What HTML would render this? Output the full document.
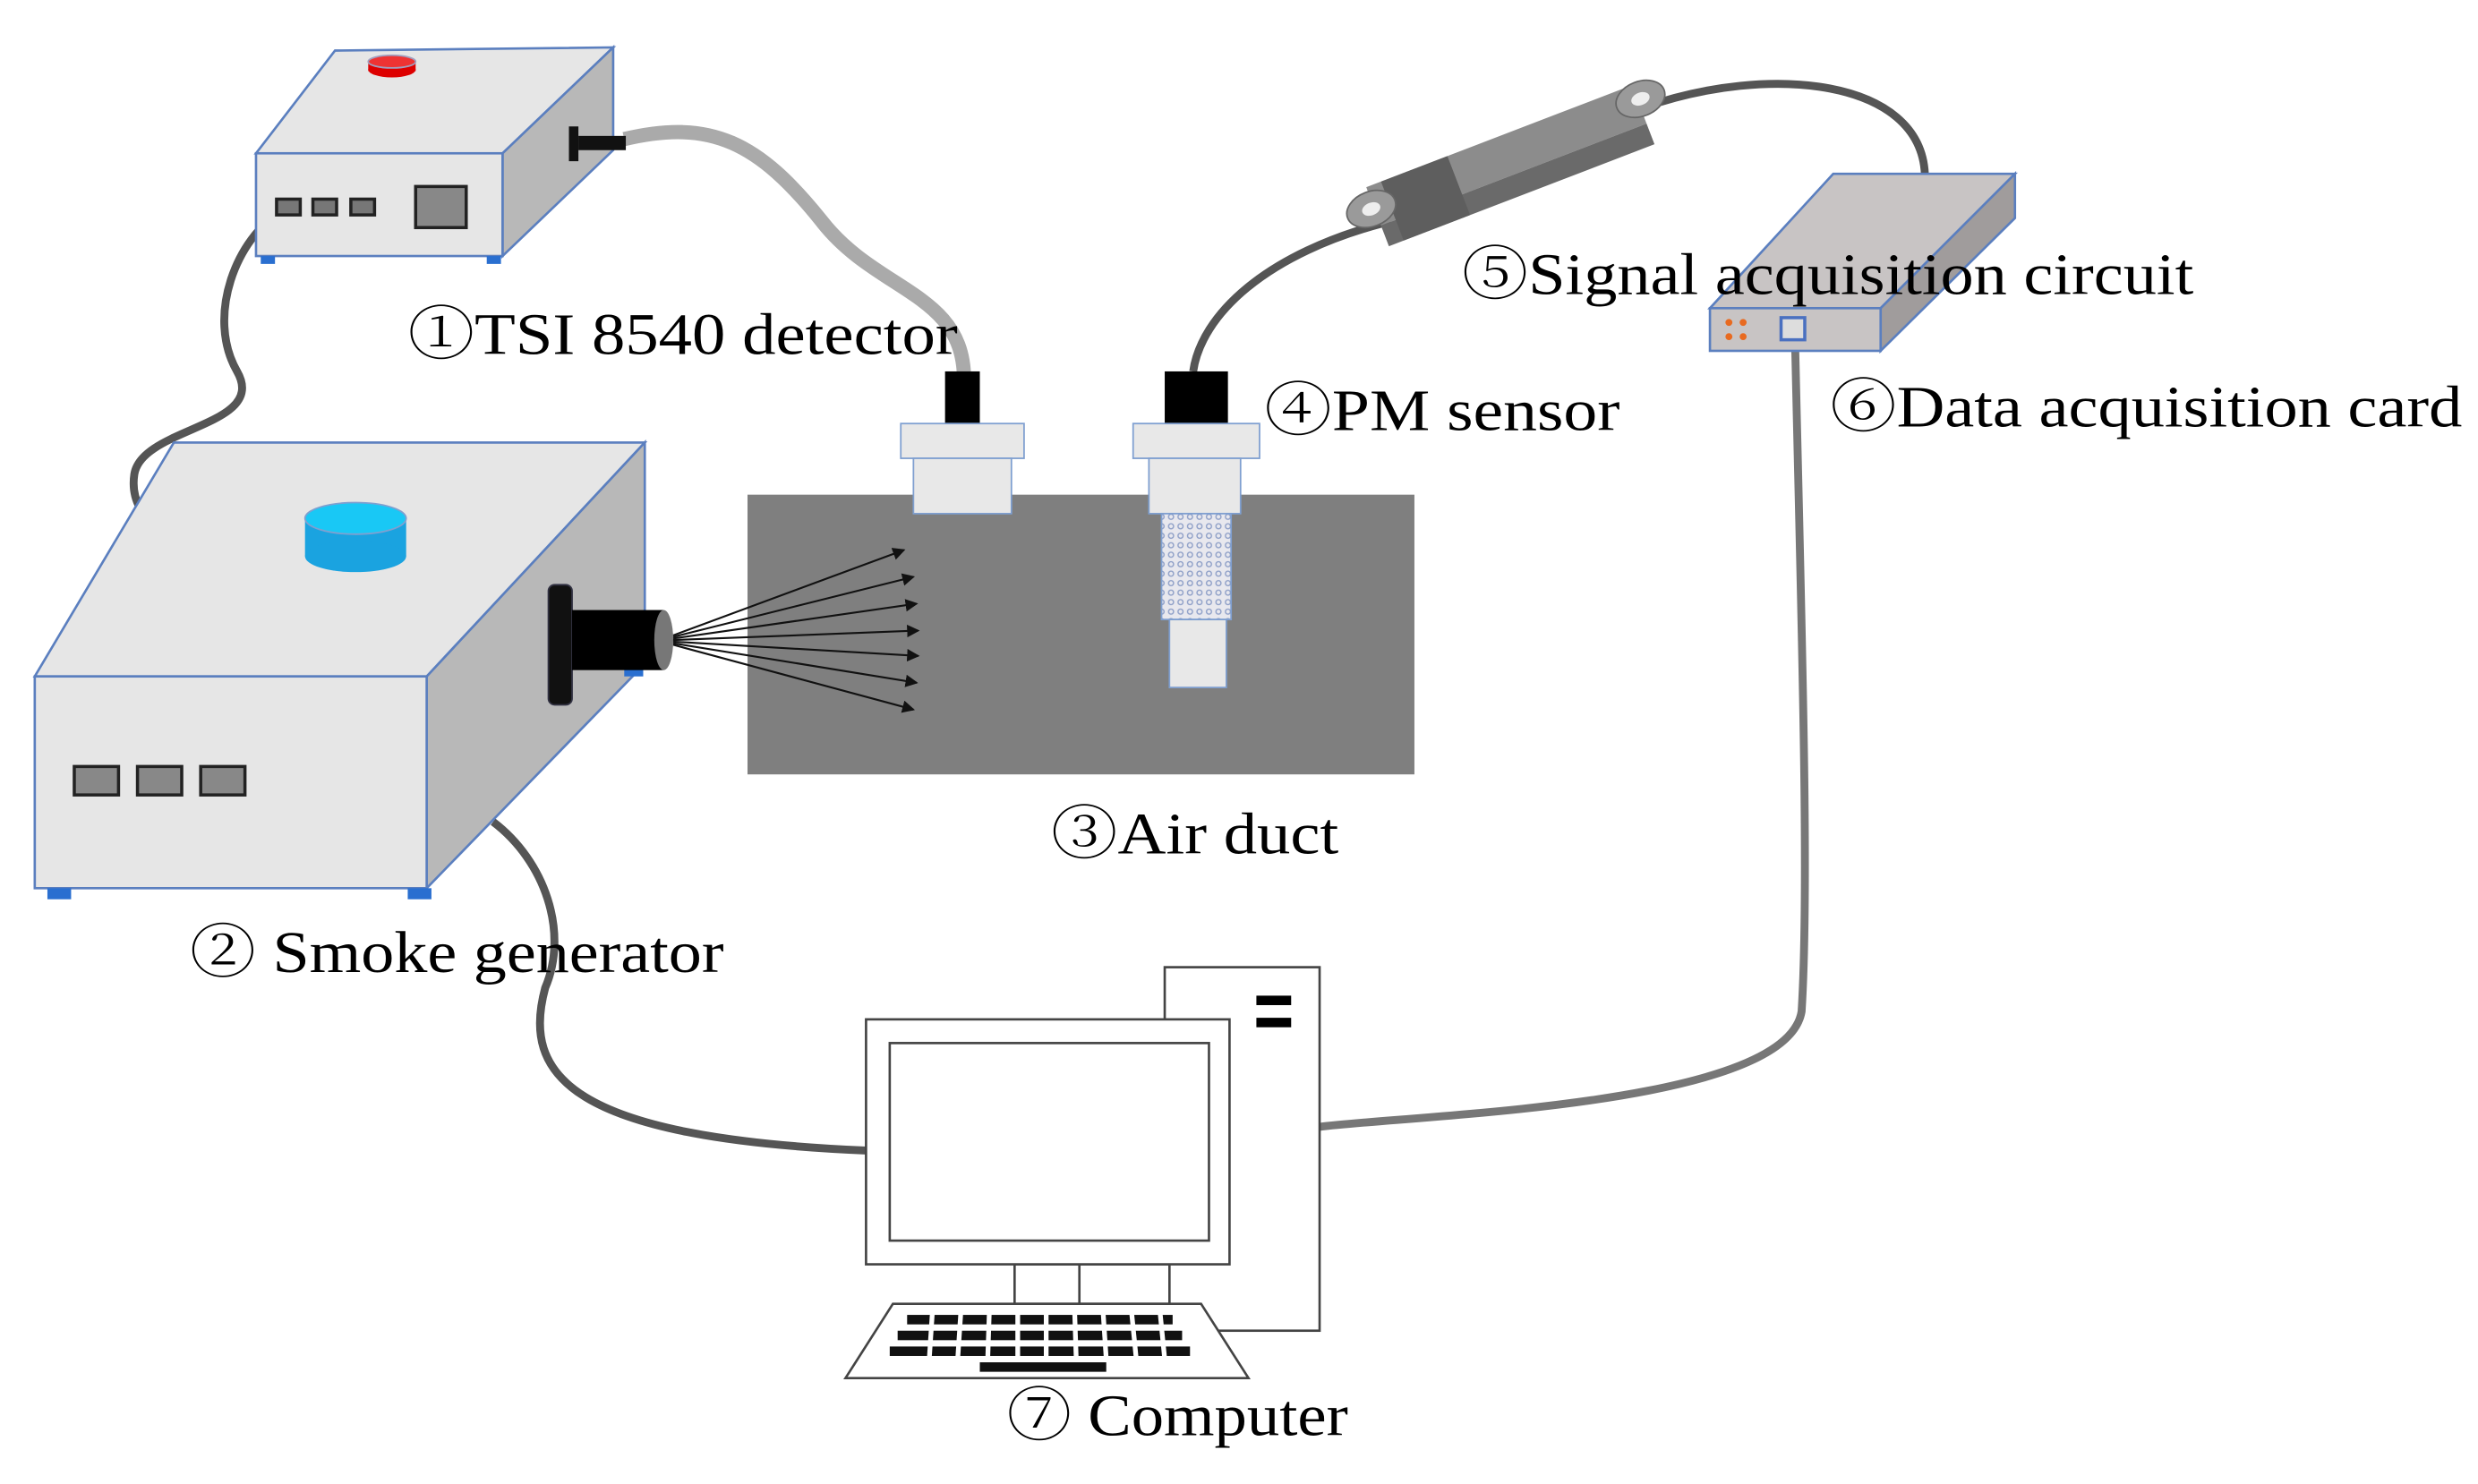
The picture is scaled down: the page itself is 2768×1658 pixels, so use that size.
<!DOCTYPE html>
<html><head><meta charset="utf-8"><style>
html,body{margin:0;padding:0;background:#fff}
svg{display:block}
text{font-family:"Liberation Serif","DejaVu Serif",serif;font-size:37px;fill:#000}
.c{font-family:"Noto Serif CJK SC","Noto Sans CJK SC",serif;font-weight:300}
</style></head><body>
<svg width="2768" height="1658" viewBox="0 0 1568 939" preserveAspectRatio="none" xmlns="http://www.w3.org/2000/svg">
<defs>
<marker id="ar" markerWidth="8" markerHeight="8" refX="7" refY="4" orient="auto" markerUnits="userSpaceOnUse"><path d="M0,0 L8,4 L0,8 Z" fill="#111"/></marker>
<pattern id="dots" width="6" height="6" patternUnits="userSpaceOnUse"><rect width="6" height="6" fill="#e8e8ee"/><circle cx="3" cy="3" r="1.6" fill="none" stroke="#8fa0c8" stroke-width="0.8"/></pattern>
</defs>

<!-- cables -->
<path d="M178,134 C150,150 130,200 150,235 C170,270 90,270 85,300 C82,320 95,330 100,335" fill="none" stroke="#555" stroke-width="5"/>
<path d="M312,520 C345,545 360,590 345,625 C330,680 360,720 548,728" fill="none" stroke="#555" stroke-width="5"/>
<path d="M1136,222 C1140,400 1145,560 1140,640 C1130,700 900,705 835,713" fill="none" stroke="#777" stroke-width="5"/>
<path d="M395,88 C450,75 480,90 520,140 C555,185 610,185 610,240" fill="none" stroke="#aaa" stroke-width="9"/>
<path d="M755,235 C760,200 800,160 880,140" fill="none" stroke="#555" stroke-width="5"/>
<path d="M1040,68 C1120,40 1215,50 1218,110" fill="none" stroke="#555" stroke-width="5"/>

<!-- detector -->
<polygon points="162,97 212,32 388,30 318,97" fill="#e6e6e6" stroke="#5b7fbf" stroke-width="1.5"/>
<polygon points="318,97 388,30 388,95 318,162" fill="#b8b8b8" stroke="#5b7fbf" stroke-width="1.5"/>
<rect x="162" y="97" width="156" height="65" fill="#e6e6e6" stroke="#5b7fbf" stroke-width="1.5"/>
<ellipse cx="248" cy="44" rx="15" ry="5" fill="#d00"/><rect x="233" y="39" width="30" height="6" fill="#d00"/><ellipse cx="248" cy="39" rx="15" ry="4" fill="#e33" stroke="#a0a0c0"/>
<rect x="175" y="126" width="15" height="10" fill="#777" stroke="#222" stroke-width="2"/>
<rect x="198" y="126" width="15" height="10" fill="#777" stroke="#222" stroke-width="2"/>
<rect x="222" y="126" width="15" height="10" fill="#777" stroke="#222" stroke-width="2"/>
<rect x="263" y="118" width="32" height="26" fill="#888" stroke="#222" stroke-width="2"/>
<rect x="165" y="162" width="9" height="5" fill="#2a6fd0"/><rect x="308" y="162" width="9" height="5" fill="#2a6fd0"/>
<rect x="360" y="80" width="6" height="22" fill="#111"/><rect x="366" y="86" width="30" height="9" fill="#111"/>

<!-- smoke generator -->
<polygon points="22,428 110,280 408,280 270,428" fill="#e6e6e6" stroke="#5b7fbf" stroke-width="1.5"/>
<polygon points="270,428 408,280 408,420 270,562" fill="#b8b8b8" stroke="#5b7fbf" stroke-width="1.5"/>
<rect x="22" y="428" width="248" height="134" fill="#e6e6e6" stroke="#5b7fbf" stroke-width="1.5"/>
<rect x="193" y="328" width="64" height="24" fill="#1aa3e0"/><ellipse cx="225" cy="352" rx="32" ry="10" fill="#1aa3e0"/><ellipse cx="225" cy="328" rx="32" ry="10" fill="#19c8f5" stroke="#7fa0d0"/>
<rect x="47" y="485" width="28" height="18" fill="#888" stroke="#222" stroke-width="2"/>
<rect x="87" y="485" width="28" height="18" fill="#888" stroke="#222" stroke-width="2"/>
<rect x="127" y="485" width="28" height="18" fill="#888" stroke="#222" stroke-width="2"/>
<rect x="30" y="562" width="15" height="7" fill="#2a6fd0"/><rect x="258" y="562" width="15" height="7" fill="#2a6fd0"/>
<rect x="395" y="418" width="12" height="10" fill="#2a6fd0"/>
<rect x="347" y="370" width="15" height="76" rx="4" fill="#111" stroke="#334" />
<rect x="362" y="386" width="58" height="38" fill="#000"/>
<ellipse cx="420" cy="405" rx="6" ry="19" fill="#777"/>

<!-- duct -->
<rect x="473" y="313" width="422" height="177" fill="#7f7f7f"/>
<g stroke="#111" stroke-width="1.2" marker-end="url(#ar)">
<line x1="426" y1="402" x2="572" y2="348"/>
<line x1="426" y1="403" x2="578" y2="365"/>
<line x1="426" y1="404" x2="580" y2="382"/>
<line x1="426" y1="405" x2="581" y2="399"/>
<line x1="426" y1="406" x2="581" y2="415"/>
<line x1="426" y1="407" x2="580" y2="432"/>
<line x1="426" y1="408" x2="578" y2="449"/>
</g>
<!-- TSI probe -->
<rect x="598" y="235" width="22" height="33" fill="#000"/>
<rect x="570" y="268" width="78" height="22" fill="#e8e8e8" stroke="#7f9fd0"/>
<rect x="578" y="290" width="62" height="35" fill="#e8e8e8" stroke="#7f9fd0"/>
<!-- PM sensor -->
<rect x="737" y="235" width="40" height="33" fill="#000"/>
<rect x="717" y="268" width="80" height="22" fill="#e8e8e8" stroke="#7f9fd0"/>
<rect x="727" y="290" width="58" height="35" fill="#e8e8e8" stroke="#7f9fd0"/>
<rect x="735" y="325" width="44" height="67" fill="url(#dots)" stroke="#7f9fd0"/>
<rect x="740" y="392" width="36" height="43" fill="#e8e8e8" stroke="#7f9fd0"/>

<!-- signal acquisition circuit -->
<g transform="translate(955,103) rotate(-21)">
<rect x="-90" y="-18" width="180" height="26" fill="#8c8c8c"/>
<rect x="-90" y="8" width="180" height="14" fill="#6a6a6a"/>
<rect x="-80" y="-18" width="45" height="40" fill="#5e5e5e"/>
<ellipse cx="-92" cy="-4" rx="16" ry="11" fill="#9a9a9a" stroke="#666"/><ellipse cx="-92" cy="-4" rx="6" ry="4" fill="#eee"/>
<ellipse cx="92" cy="-8" rx="16" ry="11" fill="#9a9a9a" stroke="#666"/><ellipse cx="92" cy="-8" rx="6" ry="4" fill="#eee"/>
</g>

<!-- data acquisition card -->
<polygon points="1082,195 1160,110 1275,110 1190,195" fill="#c8c4c4" stroke="#5b7fbf" stroke-width="1.5"/>
<polygon points="1190,195 1275,110 1275,138 1190,222" fill="#a09c9c" stroke="#5b7fbf" stroke-width="1.5"/>
<rect x="1082" y="195" width="108" height="27" fill="#c8c4c4" stroke="#5b7fbf" stroke-width="1.5"/>
<circle cx="1094" cy="204" r="2.2" fill="#e86a20"/><circle cx="1103" cy="204" r="2.2" fill="#e86a20"/>
<circle cx="1094" cy="213" r="2.2" fill="#e86a20"/><circle cx="1103" cy="213" r="2.2" fill="#e86a20"/>
<rect x="1127" y="201" width="15" height="14" fill="#ddd" stroke="#4a70c0" stroke-width="2"/>

<!-- computer -->
<rect x="737" y="612" width="98" height="230" fill="#fff" stroke="#444" stroke-width="1.5"/>
<rect x="795" y="630" width="22" height="6" fill="#000"/><rect x="795" y="644" width="22" height="6" fill="#000"/>
<rect x="642" y="800" width="98" height="25" fill="#fff" stroke="#444" stroke-width="1.5"/>
<line x1="683" y1="800" x2="683" y2="825" stroke="#444" stroke-width="1.5"/>
<rect x="548" y="645" width="230" height="155" fill="#fff" stroke="#444" stroke-width="1.5"/>
<rect x="563" y="660" width="202" height="125" fill="#fff" stroke="#444" stroke-width="1.5"/>
<polygon points="535,872 565,825 760,825 790,872" fill="#fff" stroke="#444" stroke-width="1.5"/>
<g fill="#111">
<rect x="574" y="832" width="168" height="6"/>
<rect x="568" y="842" width="180" height="6"/>
<rect x="563" y="852" width="190" height="6"/>
<rect x="620" y="862" width="80" height="6"/>
</g>
<g stroke="#fff" stroke-width="3">
<line x1="590" y1="830" x2="588" y2="860"/><line x1="608" y1="830" x2="606" y2="860"/><line x1="626" y1="830" x2="625" y2="860"/><line x1="644" y1="830" x2="644" y2="860"/><line x1="662" y1="830" x2="662" y2="860"/><line x1="680" y1="830" x2="681" y2="860"/><line x1="698" y1="830" x2="700" y2="860"/><line x1="716" y1="830" x2="719" y2="860"/><line x1="734" y1="830" x2="737" y2="860"/>
</g>

<!-- labels -->
<text x="258" y="224" textLength="348" lengthAdjust="spacingAndGlyphs"><tspan class="c">①</tspan>TSI 8540 detector</text>
<text x="120" y="615" textLength="338" lengthAdjust="spacingAndGlyphs"><tspan class="c">②</tspan> Smoke generator</text>
<text x="665" y="540" textLength="182" lengthAdjust="spacingAndGlyphs"><tspan class="c">③</tspan>Air duct</text>
<text x="800" y="272" textLength="225" lengthAdjust="spacingAndGlyphs"><tspan class="c">④</tspan>PM sensor</text>
<text x="925" y="186" textLength="463" lengthAdjust="spacingAndGlyphs"><tspan class="c">⑤</tspan>Signal acquisition circuit</text>
<text x="1158" y="270" textLength="400" lengthAdjust="spacingAndGlyphs"><tspan class="c">⑥</tspan>Data acquisition card</text>
<text x="637" y="908" textLength="216" lengthAdjust="spacingAndGlyphs"><tspan class="c">⑦</tspan> Computer</text>
</svg>
</body></html>
